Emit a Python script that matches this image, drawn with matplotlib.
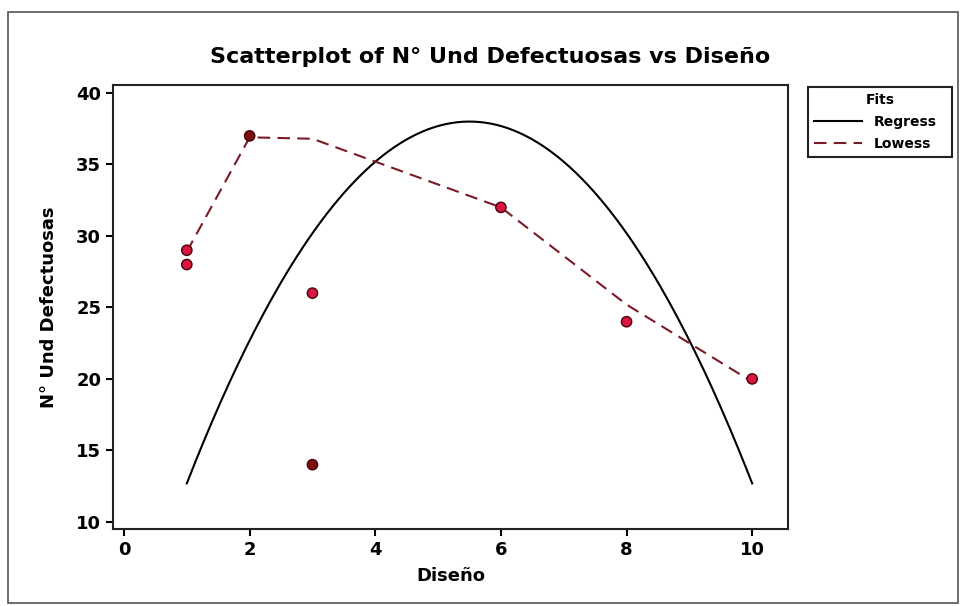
import numpy as np
import matplotlib.pyplot as plt
from matplotlib.patches import Rectangle

# observed points
diseno = [1, 1, 2, 3, 3, 6, 8, 10]
defectuosas = [29, 28, 37, 26, 14, 32, 24, 20]
point_colors = ['#d8163f', '#d8163f', '#7a0c10', '#d8163f', '#7a0c10',
                '#d8163f', '#d8163f', '#d8163f']

# quadratic regression fit (coefficients), drawn x=1..10
regress_coef = [-1.25, 13.75, 0.19]
regress_range = (1, 10)

# lowess smooth
lowess_x = [1, 2, 3, 4, 6, 8, 10]
lowess_y = [28.9, 36.9, 36.8, 35.2, 32.0, 25.2, 19.8]

x_ticks = [0, 2, 4, 6, 8, 10]
y_ticks = [10, 15, 20, 25, 30, 35, 40]

fig = plt.figure(figsize=(9.6, 6.06), dpi=100)
ax = fig.add_axes([113 / 960, 77 / 606, 675 / 960, 444 / 606])

xs = np.linspace(regress_range[0], regress_range[1], 200)
ax.plot(xs, np.polyval(regress_coef, xs), color='black', lw=1.5, label='Regress')
ax.plot(lowess_x, lowess_y, color='#7a1a26', lw=1.5, ls=(0, (6, 3.5)), label='Lowess')
ax.scatter(diseno, defectuosas, s=55, c=point_colors, edgecolors='#4a0008',
           linewidths=1.0, zorder=3)

ax.set_xlim(-0.175, 10.57)
ax.set_ylim(9.5, 40.56)
ax.set_xticks(x_ticks)
ax.set_yticks(y_ticks)
ax.tick_params(labelsize=13, width=1.5, length=5)
for lab in ax.get_xticklabels() + ax.get_yticklabels():
    lab.set_fontweight('bold')
for sp in ax.spines.values():
    sp.set_linewidth(1.5)
    sp.set_color('#222222')

ax.set_xlabel('Diseño', fontsize=13, fontweight='bold', labelpad=6)
ax.set_ylabel('N° Und Defectuosas', fontsize=13, fontweight='bold', labelpad=13)
fig.text(490 / 960, 1 - 57 / 606, 'Scatterplot of N° Und Defectuosas vs Diseño',
         ha='center', va='center', fontsize=16, fontweight='bold')

leg = ax.legend(title='Fits', loc='upper left',
                bbox_to_anchor=(808 / 960, 1 - 158 / 606, 144 / 960, 71 / 606),
                bbox_transform=fig.transFigure, mode='expand',
                fancybox=False, edgecolor='#222222', framealpha=1,
                prop={'weight': 'bold', 'size': 10}, handlelength=3.5,
                labelspacing=0.6, borderaxespad=0)
leg.get_title().set_fontweight('bold')
leg.get_title().set_fontsize(10)
leg.get_frame().set_linewidth(1.5)

# outer frame of the graph window
fig.patches.append(Rectangle((8 / 960, 3 / 606), 950 / 960, 591 / 606,
                             transform=fig.transFigure, fill=False,
                             edgecolor='#555555', lw=1.2))

plt.savefig('out.png', dpi=100)
